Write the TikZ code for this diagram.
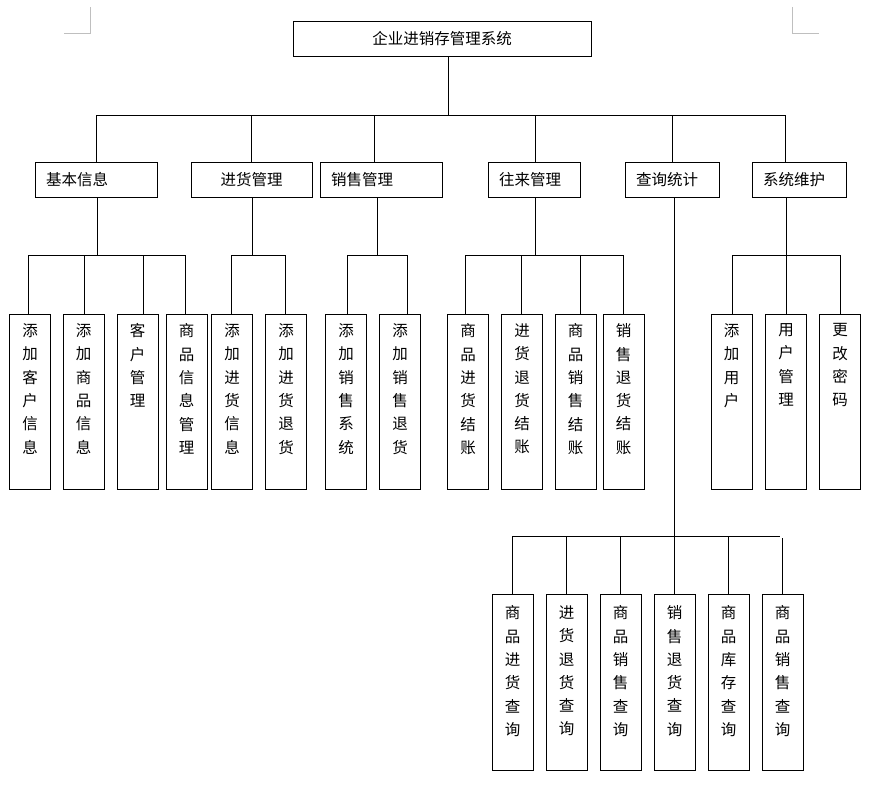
\documentclass[tikz,border=0pt]{standalone}
\usepackage{fontspec}
\setmainfont{Noto Sans CJK SC}
\begin{document}
\begin{tikzpicture}[x=1pt,y=-1pt,
  ln/.style={line width=0.9pt},
  hbox/.style={draw, line width=0.9pt, minimum height=35pt, inner xsep=11pt, inner ysep=0pt, font=\fontsize{15.5}{18}\selectfont, align=left},
  vbox/.style={draw, line width=0.9pt, minimum width=41pt, inner sep=0pt},
  vtext/.style={anchor=north, inner sep=0pt, yshift=-10pt, align=center, font=\fontsize{15.5}{23.3}\selectfont},
  cornermark/.style={draw=black!25, line width=0.9pt}]
\useasboundingbox (0,0) rectangle (876,791);
% page corner marks
\draw[cornermark] (64,33) -- (90,33) -- (90,7);
\draw[cornermark] (792,7) -- (792,33) -- (819,33);
% top
\node[hbox, text width=276pt, align=center] (top) at (442,38.5) {企业进销存管理系统};
% level 2
\node[hbox, text width=100pt] (b1) at (96,179.5) {基本信息};
\node[hbox, text width=99pt, align=center] (b2) at (251.5,179.5) {进货管理};
\node[hbox, text width=100pt] (b3) at (381,179.5) {销售管理};
\node[hbox, text width=70pt] (b4) at (534,179.5) {往来管理};
\node[hbox, text width=72pt] (b5) at (672,179.5) {查询统计};
\node[hbox, text width=72pt] (b6) at (799,179.5) {系统维护};
% level 3
\node[vbox, minimum height=175pt] (c1) at (30,401.5) {};
\node[vtext] (c1t) at (c1.north) {添\\加\\客\\户\\信\\息};
\node[vbox, minimum height=175pt] (c2) at (83.5,401.5) {};
\node[vtext] (c2t) at (c2.north) {添\\加\\商\\品\\信\\息};
\node[vbox, minimum height=175pt] (c3) at (137.5,401.5) {};
\node[vtext] (c3t) at (c3.north) {客\\户\\管\\理};
\node[vbox, minimum height=175pt] (c4) at (186.5,401.5) {};
\node[vtext] (c4t) at (c4.north) {商\\品\\信\\息\\管\\理};
\node[vbox, minimum height=175pt] (c5) at (232,401.5) {};
\node[vtext] (c5t) at (c5.north) {添\\加\\进\\货\\信\\息};
\node[vbox, minimum height=175pt] (c6) at (286,401.5) {};
\node[vtext] (c6t) at (c6.north) {添\\加\\进\\货\\退\\货};
\node[vbox, minimum height=175pt] (c7) at (346,401.5) {};
\node[vtext] (c7t) at (c7.north) {添\\加\\销\\售\\系\\统};
\node[vbox, minimum height=175pt] (c8) at (400,401.5) {};
\node[vtext] (c8t) at (c8.north) {添\\加\\销\\售\\退\\货};
\node[vbox, minimum height=175pt] (c9) at (468,401.5) {};
\node[vtext] (c9t) at (c9.north) {商\\品\\进\\货\\结\\账};
\node[vbox, minimum height=175pt] (c10) at (522,401.5) {};
\node[vtext] (c10t) at (c10.north) {进\\货\\退\\货\\结\\账};
\node[vbox, minimum height=175pt] (c11) at (575.5,401.5) {};
\node[vtext] (c11t) at (c11.north) {商\\品\\销\\售\\结\\账};
\node[vbox, minimum height=175pt] (c12) at (623.5,401.5) {};
\node[vtext] (c12t) at (c12.north) {销\\售\\退\\货\\结\\账};
\node[vbox, minimum height=175pt] (c13) at (731.5,401.5) {};
\node[vtext] (c13t) at (c13.north) {添\\加\\用\\户};
\node[vbox, minimum height=175pt] (c14) at (786,401.5) {};
\node[vtext] (c14t) at (c14.north) {用\\户\\管\\理};
\node[vbox, minimum height=175pt] (c15) at (840,401.5) {};
\node[vtext] (c15t) at (c15.north) {更\\改\\密\\码};
% level 4
\node[vbox, minimum height=176pt] (d1) at (512.5,682) {};
\node[vtext, yshift=-2pt] (d1t) at (d1.north) {商\\品\\进\\货\\查\\询};
\node[vbox, minimum height=176pt] (d2) at (566.5,682) {};
\node[vtext, yshift=-2pt] (d2t) at (d2.north) {进\\货\\退\\货\\查\\询};
\node[vbox, minimum height=176pt] (d3) at (620.5,682) {};
\node[vtext, yshift=-2pt] (d3t) at (d3.north) {商\\品\\销\\售\\查\\询};
\node[vbox, minimum height=176pt] (d4) at (674.5,682) {};
\node[vtext, yshift=-2pt] (d4t) at (d4.north) {销\\售\\退\\货\\查\\询};
\node[vbox, minimum height=176pt] (d5) at (728.5,682) {};
\node[vtext, yshift=-2pt] (d5t) at (d5.north) {商\\品\\库\\存\\查\\询};
\node[vbox, minimum height=176pt] (d6) at (782.5,682) {};
\node[vtext, yshift=-2pt] (d6t) at (d6.north) {商\\品\\销\\售\\查\\询};
% connectors level 1-2
\draw[ln] (top.south -| 448,0) -- (448,115);
\draw[ln] (96,115) -- (785,115);
\draw[ln] (b1.north -| 96,0) -- (96,115);
\draw[ln] (b2.north -| 251,0) -- (251,115);
\draw[ln] (b3.north -| 374,0) -- (374,115);
\draw[ln] (b4.north -| 535,0) -- (535,115);
\draw[ln] (b5.north -| 672,0) -- (672,115);
\draw[ln] (b6.north -| 785,0) -- (785,115);
% group 1
\draw[ln] (b1.south -| 97,0) -- (97,255);
\draw[ln] (28,255) -- (185,255);
\draw[ln] (c1.north -| 28,0) -- (28,255);
\draw[ln] (c2.north -| 84,0) -- (84,255);
\draw[ln] (c3.north -| 143,0) -- (143,255);
\draw[ln] (c4.north -| 185,0) -- (185,255);
% group 2
\draw[ln] (b2.south -| 252,0) -- (252,255);
\draw[ln] (231,255) -- (285,255);
\draw[ln] (c5.north -| 231,0) -- (231,255);
\draw[ln] (c6.north -| 285,0) -- (285,255);
% group 3
\draw[ln] (b3.south -| 377,0) -- (377,255);
\draw[ln] (347,255) -- (407,255);
\draw[ln] (c7.north -| 347,0) -- (347,255);
\draw[ln] (c8.north -| 407,0) -- (407,255);
% group 4
\draw[ln] (b4.south -| 535,0) -- (535,255);
\draw[ln] (465,255) -- (623,255);
\draw[ln] (c9.north -| 465,0) -- (465,255);
\draw[ln] (c10.north -| 521,0) -- (521,255);
\draw[ln] (c11.north -| 580,0) -- (580,255);
\draw[ln] (c12.north -| 623,0) -- (623,255);
% group 6
\draw[ln] (b6.south -| 786,0) -- (786,255);
\draw[ln] (732,255) -- (840,255);
\draw[ln] (c13.north -| 732,0) -- (732,255);
\draw[ln] (c14.north -| 786,0) -- (786,255);
\draw[ln] (c15.north -| 840,0) -- (840,255);
% group 5 (query)
\draw[ln] (b5.south -| 674,0) -- (674,536);
\draw[ln] (512,536) -- (780,536);
\draw[ln] (d1.north -| 512,0) -- (512,536);
\draw[ln] (d2.north -| 566,0) -- (566,536);
\draw[ln] (d3.north -| 620,0) -- (620,536);
\draw[ln] (d4.north -| 674,0) -- (674,536);
\draw[ln] (d5.north -| 728,0) -- (728,536);
\draw[ln] (d6.north -| 782,0) -- (782,538);
\end{tikzpicture}
\end{document}
